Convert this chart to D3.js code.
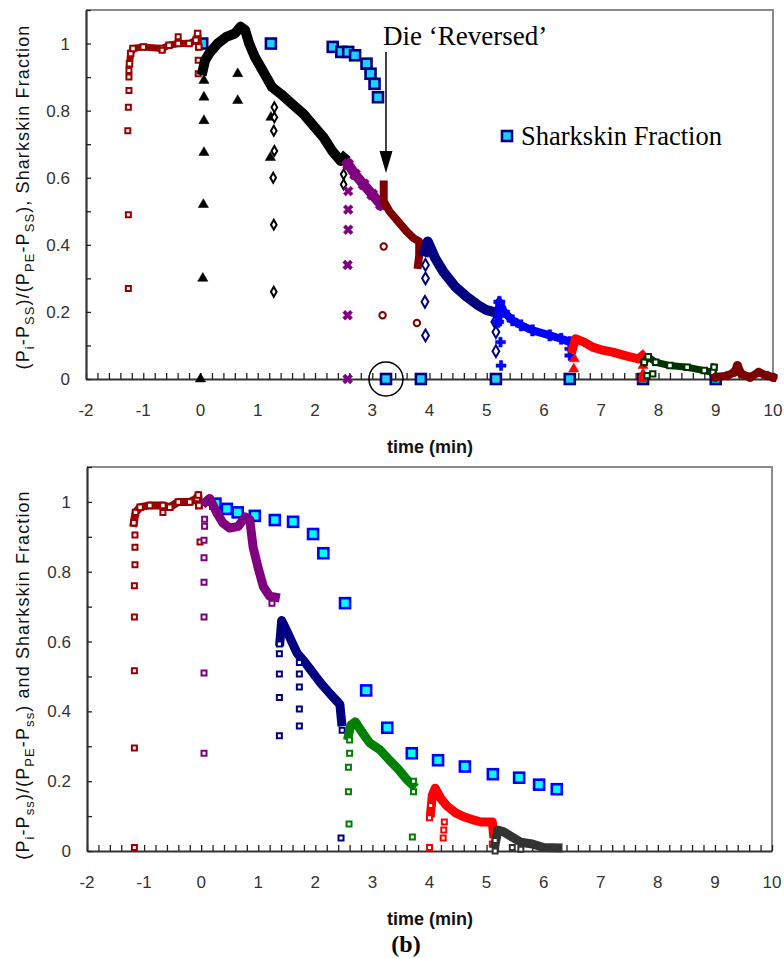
<!DOCTYPE html>
<html>
<head>
<meta charset="utf-8">
<script src="https://cdn.jsdelivr.net/npm/d3@7"></script>
<style>
body { margin: 0; background: #fff; }
svg { display: block; }
text { font-family: "Liberation Sans", Arial, sans-serif; }
text.serif { font-family: "Liberation Serif", "Times New Roman", serif; }
</style>
</head>
<body>
<div id="chart"></div>
<script>
// tick labels
var xTicks = [-2, -1, 0, 1, 2, 3, 4, 5, 6, 7, 8, 9, 10];
var yTicks = [0, 0.2, 0.4, 0.6, 0.8, 1];

// ---- top panel (a) ----
var topRedTrail = [[-1.24,0.94],[-1.22,0.97],[-1.18,0.985],[-1.0,0.99],[-0.67,0.985],[-0.55,0.995],[-0.39,1.0],[-0.2,1.0],[-0.08,1.01],[-0.05,1.03],[-0.03,0.99]];
var topRedDrops = [[-1.26,0.27],[-1.26,0.49],[-1.27,0.74],[-1.26,0.81],[-1.25,0.86],[-1.25,0.9],[-1.25,0.92],[-0.39,1.02],[-0.67,0.98],[-0.04,0.91],[-0.04,0.95]];
var topBlackTrail = [[0.04,0.92],[0.08,0.95],[0.15,0.97],[0.3,1.0],[0.45,1.02],[0.6,1.03],[0.7,1.05],[0.78,1.04],[0.85,1.0],[0.95,0.96],[1.05,0.93],[1.15,0.9],[1.25,0.87],[1.4,0.85],[1.6,0.82],[1.8,0.79],[2.0,0.75],[2.15,0.72],[2.3,0.68],[2.45,0.65],[2.5,0.66]];
var topBlackTri = [[0.0,0],[0.04,0.3],[0.05,0.52],[0.06,0.675],[0.06,0.77],[0.06,0.84],[0.06,0.89],[0.65,0.83],[0.65,0.91],[1.22,0.66],[1.23,0.78]];
var topBlackDia = [[1.28,0.26],[1.28,0.46],[1.27,0.6],[1.29,0.68],[1.28,0.74],[1.29,0.78],[1.29,0.81],[2.5,0.58],[2.5,0.61]];
var topPurpleTrail = [[2.58,0.64],[2.7,0.61],[2.85,0.58],[3.0,0.55],[3.15,0.52]];
var topPurpleDrops = [[2.57,0],[2.57,0.19],[2.57,0.34],[2.58,0.445],[2.58,0.505],[2.58,0.56]];
var topDarkRedTrail = [[3.2,0.58],[3.2,0.53],[3.3,0.5],[3.45,0.47],[3.6,0.44],[3.72,0.42],[3.82,0.41],[3.82,0.37],[3.8,0.34]];
var topDarkRedDrops = [[3.18,0.19],[3.2,0.395],[3.78,0.167]];
var topNavyTrail = [[3.92,0.38],[3.97,0.41],[4.1,0.36],[4.24,0.32],[4.45,0.275],[4.65,0.245],[4.85,0.22],[5.0,0.205],[5.12,0.2]];
var topNavyDrops = [[3.93,0.34],[3.93,0.3],[3.92,0.23],[3.93,0.13],[5.16,0.083],[5.16,0.14],[5.14,0.17]];
var topBlueTrail = [[5.2,0.17],[5.22,0.23],[5.3,0.2],[5.45,0.175],[5.6,0.16],[5.8,0.145],[6.1,0.13],[6.3,0.12],[6.45,0.11]];
var topBlueDrops = [[5.24,0.11],[5.25,0.04],[6.45,0.07],[6.45,0.09]];
var topRedTriTrail = [[6.5,0.09],[6.55,0.12],[6.7,0.11],[6.85,0.095],[7.0,0.087],[7.2,0.08],[7.45,0.068],[7.65,0.06],[7.72,0.07]];
var topRedTriDrops = [[6.52,0.03],[6.53,0.06],[7.73,0.04],[7.73,0.015],[7.72,0.0]];
var topGreenTrail = [[7.75,0.05],[7.82,0.066],[7.95,0.05],[8.2,0.04],[8.5,0.035],[8.8,0.025],[8.95,0.02],[8.97,0.035]];
var topGreenDrops = [[7.8,0.01],[7.9,0.015],[8.95,0.02]];
var topMaroonTrail = [[9.0,0.005],[9.2,0.01],[9.32,0.02],[9.38,0.04],[9.45,0.015],[9.6,0.005],[9.75,0.02],[9.9,0.01],[10.0,0.005]];
var topSharkskin = [[0.03,1.0],[1.23,1.0],[2.31,0.99],[2.46,0.975],[2.58,0.975],[2.7,0.965],[2.9,0.94],[2.97,0.91],[3.04,0.88],[3.1,0.84],[3.24,0],[3.85,0],[5.16,0],[6.45,0],[7.73,0],[9.0,0]];

// ---- bottom panel (b) ----
var botRedTrail = [[-1.18,0.94],[-1.15,0.97],[-1.07,0.985],[-0.9,0.99],[-0.67,0.99],[-0.55,0.985],[-0.4,1.0],[-0.2,1.0],[-0.07,1.01],[-0.05,1.02],[-0.04,0.99]];
var botRedDrops = [[-1.17,0.01],[-1.17,0.295],[-1.17,0.516],[-1.17,0.67],[-1.17,0.76],[-1.16,0.82],[-1.16,0.87],[-1.16,0.905],[-0.67,0.97],[-0.02,0.885]];
var botPurpleTrail = [[0.08,1.0],[0.15,1.01],[0.27,0.97],[0.38,0.94],[0.5,0.925],[0.65,0.93],[0.77,0.957],[0.85,0.95],[0.91,0.87],[1.0,0.81],[1.09,0.757],[1.2,0.73],[1.3,0.727]];
var botPurpleDrops = [[0.05,0.28],[0.05,0.51],[0.05,0.67],[0.05,0.77],[0.05,0.84],[0.05,0.89],[0.06,0.93],[0.06,0.95],[1.24,0.71]];
var botNavyTrail = [[1.38,0.6],[1.41,0.66],[1.5,0.63],[1.68,0.567],[1.82,0.54],[1.96,0.51],[2.1,0.48],[2.26,0.45],[2.43,0.42],[2.46,0.37]];
var botNavyDrops = [[1.37,0.593],[1.37,0.565],[1.37,0.507],[1.37,0.44],[1.37,0.33],[1.72,0.54],[1.72,0.507],[1.72,0.47],[1.72,0.407],[1.72,0.358],[2.47,0.346],[2.45,0.037]];
var botGreenTrail = [[2.58,0.33],[2.62,0.36],[2.7,0.37],[2.8,0.345],[2.95,0.31],[3.13,0.29],[3.3,0.26],[3.45,0.235],[3.6,0.205],[3.7,0.19]];
var botGreenDrops = [[2.6,0.318],[2.6,0.28],[2.58,0.24],[2.58,0.17],[2.59,0.077],[3.7,0.04],[3.72,0.2],[3.72,0.17]];
var botRedTrail2 = [[4.02,0.11],[4.05,0.16],[4.1,0.18],[4.2,0.15],[4.3,0.13],[4.45,0.11],[4.6,0.098],[4.75,0.09],[4.9,0.083],[5.1,0.083],[5.12,0.05]];
var botRedDrops2 = [[4.0,0.01],[4.0,0.095],[4.02,0.13],[4.24,0.037],[4.25,0.06],[4.26,0.083],[5.1,0.02]];
var botGrayTrail = [[5.15,0.02],[5.2,0.06],[5.3,0.055],[5.45,0.04],[5.6,0.025],[5.8,0.02],[6.0,0.01],[6.25,0.009]];
var botGrayDrops = [[5.15,0.0],[5.15,0.03],[5.45,0.01],[5.6,0.005]];
var botSharkskin = [[0.25,0.995],[0.45,0.98],[0.64,0.97],[0.94,0.96],[1.29,0.948],[1.61,0.943],[1.96,0.908],[2.14,0.853],[2.52,0.71],[2.89,0.46],[3.26,0.353],[3.69,0.28],[4.15,0.26],[4.62,0.242],[5.11,0.22],[5.57,0.21],[5.92,0.19],[6.23,0.177]];

var svg = d3.select("#chart").append("svg")
    .attr("width", 784)
    .attr("height", 958);

var sq = d3.symbolSquare, tri = d3.symbolTriangle, dia = d3.symbolDiamond,
    cir = d3.symbolCircle, crs = d3.symbolCross;

function drawPanel(p) {
    var x = d3.scaleLinear().domain([-2, 10]).range([p.left, p.right]);
    var y = d3.scaleLinear().domain([0, 1.1]).range([p.bottom, p.top]);
    var g = svg.append("g");

    // grey frame on top and right
    g.append("path")
        .attr("d", "M" + p.left + "," + p.top + "H" + p.right + "V" + p.bottom)
        .attr("fill", "none").attr("stroke", "#8a8a8a").attr("stroke-width", 2);

    // x axis, inward ticks every 0.2 ; y axis, inward ticks every 0.1
    var xa = g.append("g").attr("transform", "translate(0," + p.bottom + ")")
        .call(d3.axisBottom(x).tickValues(d3.range(-2, 10.01, 0.2)).tickSize(-6).tickSizeOuter(0).tickFormat(""));
    var ya = g.append("g").attr("transform", "translate(" + p.left + ",0)")
        .call(d3.axisLeft(y).tickValues(d3.range(0, 1.101, 0.1)).tickSize(-5).tickSizeOuter(0).tickFormat(""));
    [xa, ya].forEach(function(a) {
        a.select(".domain").attr("stroke", "#333").attr("stroke-width", 2.2);
        a.selectAll(".tick line").attr("stroke", "#222").attr("stroke-width", 1.3);
    });

    g.selectAll(".xl").data(xTicks).join("text")
        .attr("x", d => x(d)).attr("y", p.bottom + 37)
        .attr("text-anchor", "middle").attr("font-size", 17).attr("fill", "#333")
        .text(d => String(d));
    g.selectAll(".yl").data(yTicks).join("text")
        .attr("x", p.left - 16).attr("y", d => y(d) + 6)
        .attr("text-anchor", "end").attr("font-size", 17).attr("fill", "#333")
        .text(d => String(d));

    g.append("text").attr("x", 430).attr("y", p.bottom + 74)
        .attr("text-anchor", "middle").attr("font-size", 18).attr("font-weight", "bold")
        .attr("fill", "#111").text("time (min)");

    // y title with subscripts
    var t = g.append("text")
        .attr("transform", "translate(29," + p.labelY + ") rotate(-90)")
        .attr("text-anchor", "middle").attr("font-size", 18).attr("fill", "#111")
        .attr("letter-spacing", 1.1);
    var shift = 0;
    p.yTitle.forEach(function(part) {
        var s = t.append("tspan").text(part[0]);
        if (part[1]) {
            s.attr("dy", 5 - shift).attr("font-size", 13);
            shift = 5;
        } else {
            s.attr("dy", -shift);
            shift = 0;
        }
    });

    return {x: x, y: y, g: g};
}

function trail(c, data, color, w) {
    c.g.append("path").datum(data)
        .attr("d", d3.line().x(d => c.x(d[0])).y(d => c.y(d[1])))
        .attr("fill", "none").attr("stroke", color).attr("stroke-width", w)
        .attr("stroke-linejoin", "round").attr("stroke-linecap", "square");
}

function marks(c, data, color, type, size, open, rot) {
    c.g.selectAll(null).data(data).join("path")
        .attr("d", d3.symbol().type(type).size(size))
        .attr("transform", d => "translate(" + c.x(d[0]) + "," + c.y(d[1]) + ")" + (rot ? " rotate(45)" : ""))
        .attr("fill", open ? "#fff" : color)
        .attr("stroke", color).attr("stroke-width", open ? 2 : 0.5);
}

function sharkskin(c, data, edge, fill) {
    c.g.selectAll(null).data(data).join("rect")
        .attr("x", d => c.x(d[0]) - 5).attr("y", d => c.y(d[1]) - 5)
        .attr("width", 10).attr("height", 10)
        .attr("fill", fill).attr("stroke", edge).attr("stroke-width", 2.6);
}

// ---------- top ----------
var A = drawPanel({left: 86, right: 773, top: 10, bottom: 379, labelY: 197,
    yTitle: [["(P"], ["i", 1], ["-P"], ["SS", 1], [")/(P"], ["PE", 1], ["-P"], ["SS", 1], ["),  Sharkskin Fraction"]]});

sharkskin(A, topSharkskin, "#000080", "#1ad0ff");

trail(A, topRedTrail, "#990000", 7);
marks(A, topRedTrail, "#990000", sq, 30, true);
marks(A, topRedDrops, "#990000", sq, 25, true);

trail(A, topBlackTrail, "#000", 10);
marks(A, topBlackTri, "#000", tri, 45, false);
marks(A, topBlackDia, "#000", dia, 28, true);

trail(A, topPurpleTrail, "#800080", 10);
marks(A, topPurpleTrail, "#800080", crs, 80, false, true);
marks(A, topPurpleDrops, "#800080", crs, 60, false, true);

trail(A, topDarkRedTrail, "#800000", 8);
marks(A, topDarkRedDrops, "#800000", cir, 32, true);

trail(A, topNavyTrail, "#000080", 10);
marks(A, topNavyDrops, "#000080", dia, 40, true);

trail(A, topBlueTrail, "#0000ff", 8);
marks(A, topBlueTrail, "#0000ff", crs, 70, false);
marks(A, topBlueDrops, "#0000ff", crs, 55, false);

trail(A, topRedTriTrail, "#ff0000", 9);
marks(A, topRedTriDrops, "#ff0000", tri, 45, false);

trail(A, topGreenTrail, "#003300", 7);
marks(A, topGreenTrail, "#003300", sq, 30, true);
marks(A, topGreenDrops, "#003300", sq, 28, true);

trail(A, topMaroonTrail, "#7a0000", 8);
marks(A, topMaroonTrail, "#7a0000", cir, 60, false);

// annotation: die reversed
var ax = A.x(3.24);
A.g.append("text").attr("class", "serif").attr("x", 383).attr("y", 45)
    .attr("font-size", 27).attr("fill", "#000").text("Die \u2018Reversed\u2019");
A.g.append("line").attr("x1", ax).attr("x2", ax).attr("y1", 52).attr("y2", 155)
    .attr("stroke", "#000").attr("stroke-width", 1.5);
A.g.append("path").attr("d", "M" + (ax - 6.5) + ",151L" + (ax + 6.5) + ",151L" + ax + ",173Z").attr("fill", "#000");
A.g.append("circle").attr("cx", ax).attr("cy", A.y(0)).attr("r", 17)
    .attr("fill", "none").attr("stroke", "#000").attr("stroke-width", 1.5);

// legend
A.g.append("rect").attr("x", 502).attr("y", 131).attr("width", 10).attr("height", 10)
    .attr("fill", "#1ad0ff").attr("stroke", "#000080").attr("stroke-width", 2.6);
A.g.append("text").attr("class", "serif").attr("x", 521).attr("y", 145)
    .attr("font-size", 26.5).attr("fill", "#000").text("Sharkskin Fraction");

// ---------- bottom ----------
var B = drawPanel({left: 87, right: 772, top: 467, bottom: 851, labelY: 675,
    yTitle: [["(P"], ["i", 1], ["-P"], ["ss", 1], [")/(P"], ["PE", 1], ["-P"], ["ss", 1], [")  and Sharkskin Fraction"]]});

sharkskin(B, botSharkskin, "#0000ff", "#00ffff");

trail(B, botRedTrail, "#990000", 8);
marks(B, botRedTrail, "#990000", sq, 30, true);
marks(B, botRedDrops, "#990000", sq, 25, true);
trail(B, botPurpleTrail, "#800080", 9);
marks(B, botPurpleDrops, "#800080", sq, 25, true);
trail(B, botNavyTrail, "#000080", 9);
marks(B, botNavyDrops, "#000080", sq, 25, true);
trail(B, botGreenTrail, "#008000", 9);
marks(B, botGreenDrops, "#008000", sq, 25, true);
trail(B, botRedTrail2, "#ff0000", 9);
marks(B, botRedDrops2, "#ff0000", sq, 25, true);
trail(B, botGrayTrail, "#333333", 9);
marks(B, botGrayDrops, "#333333", sq, 25, true);

svg.append("text").attr("class", "serif").attr("x", 406).attr("y", 952).attr("text-anchor", "middle")
    .attr("font-size", 24).attr("font-weight", "bold").attr("fill", "#000").text("(b)");
</script>
</body>
</html>
